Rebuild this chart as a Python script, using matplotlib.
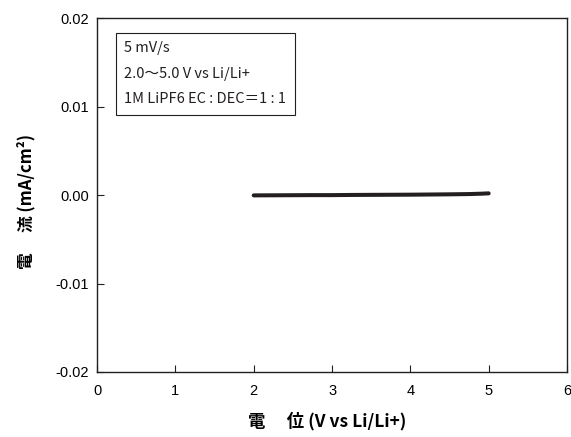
import matplotlib
matplotlib.use("Agg")
import matplotlib.pyplot as plt

plt.rcParams['font.family'] = ['Liberation Sans', 'Noto Sans CJK JP', 'DejaVu Sans']

# LSV scan, 2.0 -> 5.0 V
voltage = [2.0, 2.25, 2.5, 2.75, 3.0, 3.25, 3.5, 3.75, 4.0, 4.25, 4.5, 4.75, 4.9, 5.0]
current = [-0.00003, -0.00002, -0.00001, 0.0, 0.0, 0.00002, 0.00003, 0.00004,
           0.00005, 0.00007, 0.00009, 0.00012, 0.00016, 0.0002]

x_ticks = [0, 1, 2, 3, 4, 5, 6]
y_ticks = [-0.02, -0.01, 0.0, 0.01, 0.02]
y_tick_labels = ['-0.02', '-0.01', '0.00', '0.01', '0.02']

info_lines = ['5 mV/s', '2.0～5.0 V vs Li/Li+', '1M LiPF6 EC : DEC＝1 : 1']

cjk = ['Noto Sans CJK JP', 'DejaVu Sans']

fig = plt.figure(figsize=(5.71, 4.37), dpi=100)
ax = fig.add_axes([0.170, 0.149, 0.823, 0.809])

ax.plot(voltage, current, color='#231f20', linewidth=2.9, solid_capstyle='round')

ax.set_xlim(0, 6)
ax.set_ylim(-0.02, 0.02)
ax.set_xticks(x_ticks)
ax.set_yticks(y_ticks)
ax.set_yticklabels(y_tick_labels)
ax.tick_params(direction='in', length=5, width=0.8, labelsize=10.5, color='#231f20', pad=6)
ax.tick_params(axis='x', pad=9)
for s in ax.spines.values():
    s.set_linewidth(1.0)
    s.set_color('#231f20')

ax.set_xlabel('電　 位 (V vs Li/Li+)', fontsize=12.5, fontweight='bold',
              family=cjk, labelpad=10)
ax.xaxis.label.set_x(0.49)
ax.set_ylabel('電　 流 (mA/cm²)', fontsize=12, fontweight='bold',
              family=cjk, labelpad=14)
ax.yaxis.label.set_y(0.483)

ax.text(0.058, 0.935, '\n'.join(info_lines), transform=ax.transAxes,
        fontsize=10.5, va='top', ha='left', linespacing=2.05, color='#231f20',
        family=cjk,
        bbox=dict(boxstyle='square,pad=0.6', facecolor='white',
                  edgecolor='#231f20', linewidth=0.8))

fig.savefig('out.png', dpi=100)
